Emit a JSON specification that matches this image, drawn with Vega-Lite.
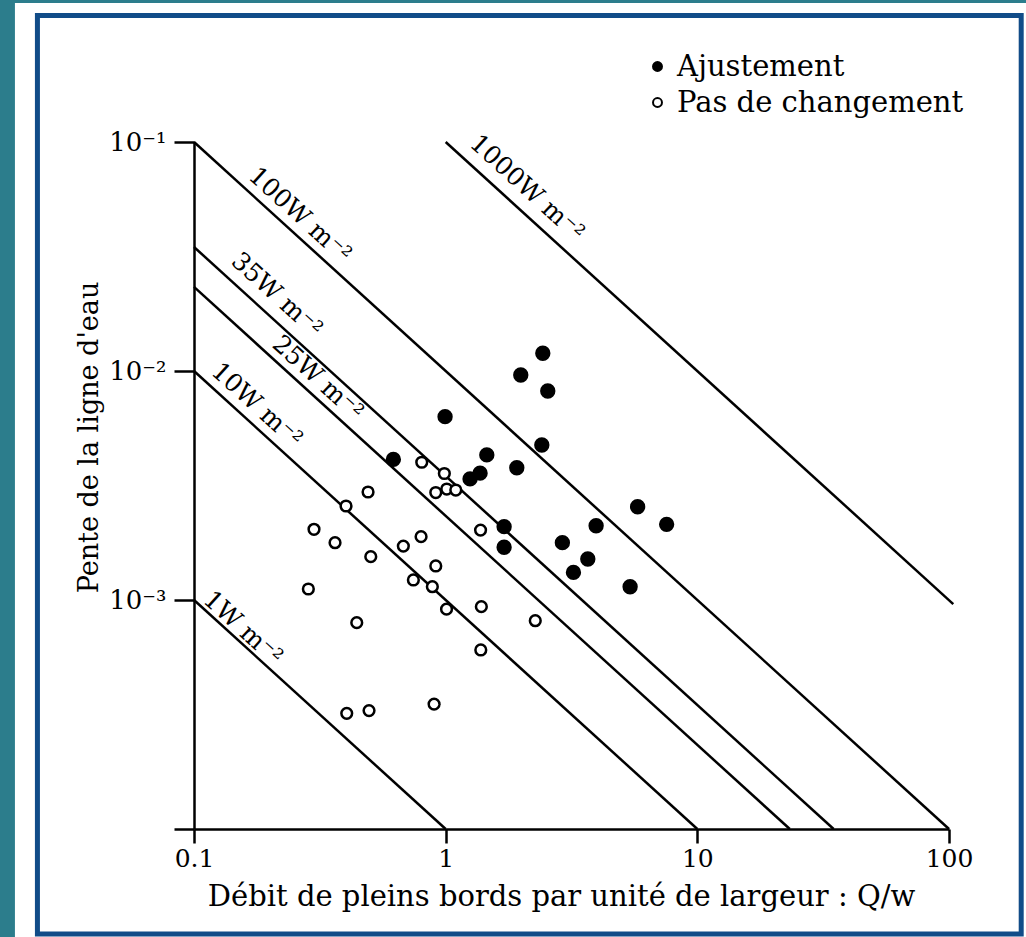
{
  "$schema": "https://vega.github.io/schema/vega-lite/v6.json",
  "width": 755,
  "height": 687,
  "autosize": "none",
  "padding": {"left": 194, "top": 142, "right": 77, "bottom": 108},
  "background": "#2c7d8c",
  "config": {
    "view": {"stroke": null},
    "font": "DejaVu Serif",
    "axis": {
      "grid": false,
      "domainColor": "black",
      "domainWidth": 2.5,
      "tickColor": "black",
      "tickWidth": 2.5,
      "labelColor": "black",
      "titleColor": "black",
      "labelFont": "DejaVu Serif",
      "titleFont": "DejaVu Serif",
      "titleFontWeight": "normal",
      "labelFlush": false,
      "labelOverlap": false
    }
  },
  "datasets": {
    "points": [
      {"q": 2.432, "S": 0.01195, "type": "Ajustement"},
      {"q": 1.988, "S": 0.00961, "type": "Ajustement"},
      {"q": 2.545, "S": 0.00818, "type": "Ajustement"},
      {"q": 0.9945, "S": 0.00632, "type": "Ajustement"},
      {"q": 2.41, "S": 0.00475, "type": "Ajustement"},
      {"q": 1.457, "S": 0.0043, "type": "Ajustement"},
      {"q": 0.6197, "S": 0.00411, "type": "Ajustement"},
      {"q": 1.917, "S": 0.00378, "type": "Ajustement"},
      {"q": 1.37, "S": 0.00358, "type": "Ajustement"},
      {"q": 1.25, "S": 0.00338, "type": "Ajustement"},
      {"q": 1.707, "S": 0.00209, "type": "Ajustement"},
      {"q": 5.791, "S": 0.002555, "type": "Ajustement"},
      {"q": 3.961, "S": 0.00211, "type": "Ajustement"},
      {"q": 7.551, "S": 0.00214, "type": "Ajustement"},
      {"q": 1.707, "S": 0.001699, "type": "Ajustement"},
      {"q": 2.909, "S": 0.00178, "type": "Ajustement"},
      {"q": 3.671, "S": 0.00151, "type": "Ajustement"},
      {"q": 3.219, "S": 0.00132, "type": "Ajustement"},
      {"q": 5.406, "S": 0.001143, "type": "Ajustement"},
      {"q": 0.8035, "S": 0.003995, "type": "Pas de changement"},
      {"q": 0.988, "S": 0.003568, "type": "Pas de changement"},
      {"q": 0.9135, "S": 0.002947, "type": "Pas de changement"},
      {"q": 1.01, "S": 0.003052, "type": "Pas de changement"},
      {"q": 1.097, "S": 0.003022, "type": "Pas de changement"},
      {"q": 0.4916, "S": 0.002962, "type": "Pas de changement"},
      {"q": 0.4019, "S": 0.002573, "type": "Pas de changement"},
      {"q": 0.2998, "S": 0.002036, "type": "Pas de changement"},
      {"q": 0.3634, "S": 0.001779, "type": "Pas de changement"},
      {"q": 0.504, "S": 0.001546, "type": "Pas de changement"},
      {"q": 0.6789, "S": 0.00172, "type": "Pas de changement"},
      {"q": 0.7985, "S": 0.00189, "type": "Pas de changement"},
      {"q": 1.376, "S": 0.00202, "type": "Pas de changement"},
      {"q": 0.9135, "S": 0.001408, "type": "Pas de changement"},
      {"q": 0.7442, "S": 0.001223, "type": "Pas de changement"},
      {"q": 0.8853, "S": 0.001143, "type": "Pas de changement"},
      {"q": 0.2847, "S": 0.001117, "type": "Pas de changement"},
      {"q": 1.008, "S": 0.000912, "type": "Pas de changement"},
      {"q": 1.386, "S": 0.000935, "type": "Pas de changement"},
      {"q": 0.4433, "S": 0.000796, "type": "Pas de changement"},
      {"q": 2.27, "S": 0.000812, "type": "Pas de changement"},
      {"q": 1.379, "S": 0.000605, "type": "Pas de changement"},
      {"q": 0.4045, "S": 0.00032, "type": "Pas de changement"},
      {"q": 0.496, "S": 0.000329, "type": "Pas de changement"},
      {"q": 0.8994, "S": 0.000351, "type": "Pas de changement"}
    ],
    "lines": [
      {"power": "1W", "q": 0.1, "S": 0.001},
      {"power": "1W", "q": 1, "S": 0.0001},
      {"power": "10W", "q": 0.1, "S": 0.01},
      {"power": "10W", "q": 10, "S": 0.0001},
      {"power": "25W", "q": 0.1, "S": 0.0233},
      {"power": "25W", "q": 23.3, "S": 0.0001},
      {"power": "35W", "q": 0.1, "S": 0.0348},
      {"power": "35W", "q": 34.8, "S": 0.0001},
      {"power": "100W", "q": 0.1, "S": 0.1},
      {"power": "100W", "q": 100, "S": 0.0001},
      {"power": "1000W", "q": 1, "S": 0.1},
      {"power": "1000W", "q": 104, "S": 0.00096}
    ],
    "labels": [
      {"label": "1000W m⁻²", "q": 2.107, "S": 0.063},
      {"label": "100W m⁻²", "q": 0.2638, "S": 0.048},
      {"label": "35W m⁻²", "q": 0.2137, "S": 0.02148},
      {"label": "25W m⁻²", "q": 0.3111, "S": 0.00932},
      {"label": "10W m⁻²", "q": 0.178, "S": 0.0071},
      {"label": "1W m⁻²", "q": 0.1566, "S": 0.000754}
    ]
  },
  "layer": [
    {
      "data": {"values": [{}]},
      "mark": {"type": "rect", "fill": "white"},
      "encoding": {
        "x": {"datum": 0.01943, "type": "quantitative"},
        "x2": {"datum": 230},
        "y": {"datum": 0.4046, "type": "quantitative"},
        "y2": {"datum": 0.0000296}
      }
    },
    {
      "data": {"values": [{}]},
      "mark": {"type": "rect", "fillOpacity": 0, "stroke": "#114c88", "strokeWidth": 5},
      "encoding": {
        "x": {"datum": 0.02387, "type": "quantitative"},
        "x2": {"datum": 193.6},
        "y": {"datum": 0.3568, "type": "quantitative"},
        "y2": {"datum": 0.00003479}
      }
    },
    {
      "data": {"name": "lines"},
      "mark": {"type": "line", "color": "black", "strokeWidth": 2.5},
      "encoding": {
        "x": {"field": "q", "type": "quantitative"},
        "y": {"field": "S", "type": "quantitative"},
        "detail": {"field": "power", "type": "nominal"}
      }
    },
    {
      "data": {"name": "labels"},
      "mark": {"type": "text", "angle": 42.3, "font": "DejaVu Serif", "fontSize": 25, "align": "center", "baseline": "middle", "color": "black"},
      "encoding": {
        "x": {"field": "q", "type": "quantitative"},
        "y": {"field": "S", "type": "quantitative"},
        "text": {"field": "label", "type": "nominal"}
      }
    },
    {
      "data": {"name": "points"},
      "transform": [{"filter": "datum.type === 'Pas de changement'"}],
      "mark": {"type": "point", "shape": "circle", "filled": true, "stroke": "black", "strokeWidth": 2.5, "opacity": 1, "size": 115},
      "encoding": {
        "x": {"field": "q", "type": "quantitative"},
        "y": {"field": "S", "type": "quantitative"},
        "fill": {"field": "type", "type": "nominal"}
      }
    },
    {
      "data": {"name": "points"},
      "transform": [{"filter": "datum.type === 'Ajustement'"}],
      "mark": {"type": "point", "shape": "circle", "filled": true, "stroke": "black", "strokeWidth": 2.5, "opacity": 1, "size": 165},
      "encoding": {
        "x": {
          "field": "q", "type": "quantitative",
          "scale": {"type": "log", "domain": [0.1, 100]},
          "axis": {
            "zindex": 2,
            "values": [0.1, 1, 10, 100], "format": "~g",
            "title": "Débit de pleins bords par unité de largeur : Q/w",
            "tickSize": 14, "labelPadding": 3, "labelFontSize": 25,
            "titleFontSize": 29, "titleX": 367, "titleY": 76, "titleBaseline": "alphabetic"
          }
        },
        "y": {
          "field": "S", "type": "quantitative",
          "scale": {"type": "log", "domain": [0.0001, 0.1]},
          "axis": {
            "zindex": 2,
            "values": [0.1, 0.01, 0.001, 0.0001],
            "labelExpr": "datum.value > 0.05 ? '10⁻¹' : datum.value > 0.005 ? '10⁻²' : datum.value > 0.0005 ? '10⁻³' : ''",
            "title": "Pente de la ligne d'eau",
            "tickSize": 20, "labelPadding": 8, "labelFontSize": 26,
            "titleFontSize": 27, "titleAngle": 270, "titleX": -97, "titleY": 295, "titleBaseline": "alphabetic"
          }
        },
        "fill": {
          "field": "type", "type": "nominal",
          "scale": {"domain": ["Ajustement", "Pas de changement"], "range": ["black", "white"]},
          "legend": {
            "zindex": 2,
            "title": null, "orient": "none", "legendX": 449, "legendY": -90,
            "padding": 0, "symbolType": "circle", "symbolSize": 80,
            "symbolStrokeColor": "black", "symbolStrokeWidth": 2,
            "labelFont": "DejaVu Serif", "labelFontSize": 29, "labelColor": "black",
            "labelOffset": 5, "labelLimit": 500, "rowPadding": 6
          }
        }
      }
    }
  ]
}
